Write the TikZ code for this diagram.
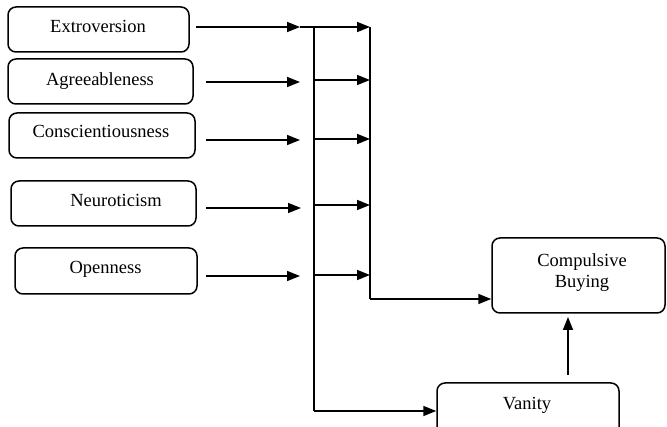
\documentclass[tikz,border=0pt]{standalone}
\usepackage{fontspec}
\setmainfont{Liberation Serif}
\usetikzlibrary{arrows.meta}
\begin{document}
\begin{tikzpicture}[x=1pt,y=-1pt,
  box/.style={draw,line width=1.5pt,rounded corners=8pt,inner sep=0pt},
  txt/.style={font=\fontsize{18.5}{21}\selectfont,inner sep=0pt,anchor=base,align=center},
  arr/.style={line width=1.6pt,-{Triangle[length=13pt,width=10pt]}},
  ln/.style={line width=1.6pt}]
\useasboundingbox (0,0) rectangle (667,427);
% boxes
\node[box,minimum width=181pt,minimum height=45pt] (ext) at (98.5,29.5) {};
\node[box,minimum width=185pt,minimum height=45pt] (agr) at (100.5,81.5) {};
\node[box,minimum width=186pt,minimum height=45pt] (con) at (102,135.5) {};
\node[box,minimum width=185pt,minimum height=45pt] (neu) at (103.5,203.5) {};
\node[box,minimum width=182pt,minimum height=46pt] (ope) at (106,271) {};
\node[box,minimum width=173pt,minimum height=75pt] (comp) at (578.5,275.5) {};
\node[box,minimum width=182pt,minimum height=57pt] (van) at (528,411.5) {};
% texts
\node[txt] (extT) at (98,33) {Extroversion};
\node[txt] (agrT) at (100,86) {Agreeableness};
\node[txt] (conT) at (101,138) {Conscientiousness};
\node[txt] (neuT) at (116,207) {Neuroticism};
\node[txt] (opeT) at (105.5,274) {Openness};
\node[txt] (compT) at (582,288) {Compulsive\\Buying};
\node[txt] (vanT) at (527,410) {Vanity};
% coordinates
\coordinate (s1) at (196,27);
\coordinate (t1) at (300,27);
\coordinate (r1) at (370,27);
\coordinate (s2) at (206,82);
\coordinate (t2) at (300,82);
\coordinate (l2) at (314,80);
\coordinate (r2) at (370,80);
\coordinate (s3) at (206,140);
\coordinate (t3) at (300,140);
\coordinate (l3) at (314,139);
\coordinate (r3) at (370,139);
\coordinate (s4) at (206,208);
\coordinate (t4) at (301,208);
\coordinate (l4) at (314,205);
\coordinate (r4) at (370,205);
\coordinate (s5) at (206,276);
\coordinate (t5) at (300,276);
\coordinate (l5) at (314,275);
\coordinate (r5) at (370,275);
\coordinate (vtop) at (314,27);
\coordinate (vbot) at (314,411);
\coordinate (rbot) at (370,299);
\coordinate (vs) at (568,375);
\coordinate (vt) at (568,317);
% connectors
\draw[arr] (s1) -- (t1);
\draw[arr] (t1) -- (r1);
\draw[arr] (s2) -- (t2);
\draw[arr] (s3) -- (t3);
\draw[arr] (s4) -- (t4);
\draw[arr] (s5) -- (t5);
\draw[arr] (l2) -- (r2);
\draw[arr] (l3) -- (r3);
\draw[arr] (l4) -- (r4);
\draw[arr] (l5) -- (r5);
\draw[ln] (vtop) -- (vbot);
\draw[arr] (vbot) -- (vbot -| van.west);
\draw[ln] (r1) -- (rbot);
\draw[arr] (rbot) -- (rbot -| comp.west);
\draw[arr] (vs) -- (vt);
\end{tikzpicture}
\end{document}
